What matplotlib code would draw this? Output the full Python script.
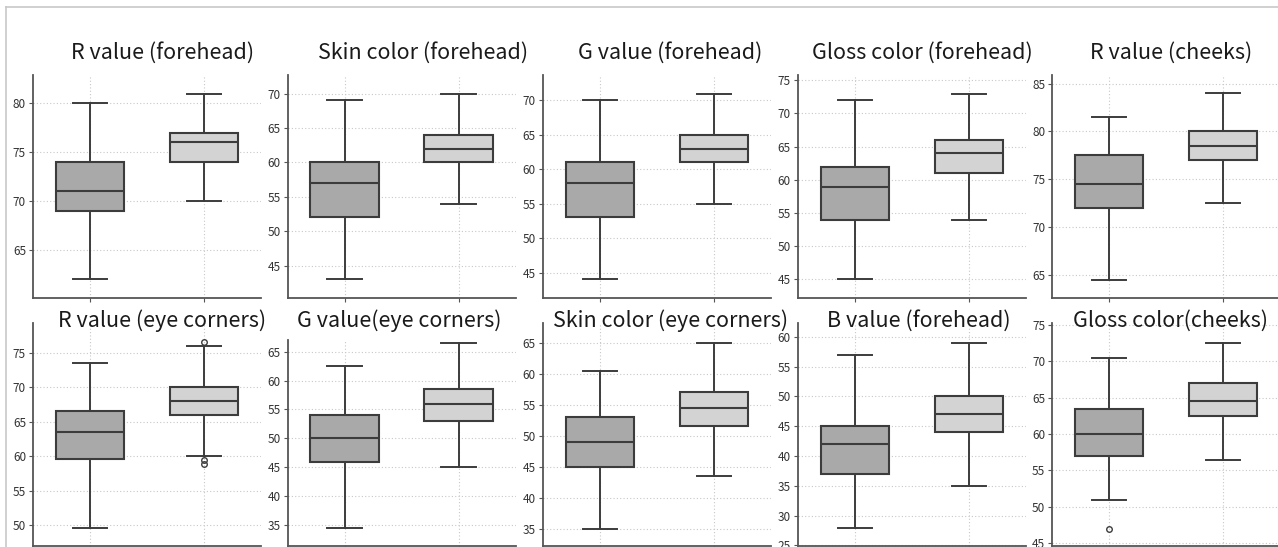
import matplotlib
matplotlib.use("Agg")
import matplotlib.pyplot as plt
from matplotlib.ticker import MultipleLocator
from matplotlib.lines import Line2D

plt.rcParams['font.family'] = ['Noto Sans CJK JP', 'DejaVu Sans']

# ---- data (per panel; group A = dark box, group B = light box) ----
titles = ["R value (forehead)", "Skin color (forehead)", "G value (forehead)",
          "Gloss color (forehead)", "R value (cheeks)",
          "R value (eye corners)", "G value(eye corners)", "Skin color (eye corners)",
          "B value (forehead)", "Gloss color(cheeks)"]

a_whislo = [62, 43, 44, 45, 64.5, 49.5, 34.5, 35, 28, 51]
a_q1     = [69, 52, 53, 54, 72, 59.5, 46, 45, 37, 57]
a_med    = [71, 57, 58, 59, 74.5, 63.5, 50, 49, 42, 60]
a_q3     = [74, 60, 61, 62, 77.5, 66.5, 54, 53, 45, 63.5]
a_whishi = [80, 69, 70, 72, 81.5, 73.5, 62.5, 60.5, 57, 70.5]
a_fliers = [[], [], [], [], [], [], [], [], [], [47]]

b_whislo = [70, 54, 55, 54, 72.5, 60, 45, 43.5, 35, 56.5]
b_q1     = [74, 60, 61, 61, 77, 66, 53, 51.5, 44, 62.5]
b_med    = [76, 62, 63, 64, 78.5, 68, 56, 54.5, 47, 64.5]
b_q3     = [77, 64, 65, 66, 80, 70, 58.5, 57, 50, 67]
b_whishi = [81, 70, 71, 73, 84, 76, 66.5, 65, 59, 72.5]
b_fliers = [[], [], [], [], [], [76.5, 59.4, 58.9], [], [], [], []]

ylims = [(60.1, 82.9), (40.3, 72.7), (41.3, 73.7), (42.2, 75.8), (62.6, 85.9),
         (46.95, 79.3), (31.4, 67.0), (32.2, 68.2), (24.9, 62.3), (44.6, 75.3)]

# ---- layout (pixels) ----
W, H = 1278, 547
lefts = [33, 287.5, 542.7, 797.7, 1052.3]
ax_w = 228
row_top = [[75, 75, 75, 75, 75], [323, 340, 323, 323, 323]]
row_bot = [298, 546]
title_x = [[163, 423, 670, 922, 1171], [162.5, 399, 670.7, 919, 1170.5]]
title_y = [53, 320.5]

fig = plt.figure(figsize=(W / 100, H / 100), dpi=100)

edge = '#3c3c3c'
for i in range(10):
    r, c = divmod(i, 5)
    top, bot = row_top[r][c], row_bot[r]
    ax = fig.add_axes([lefts[c] / W, 1 - bot / H, ax_w / W, (bot - top) / H])
    stats = [
        dict(whislo=a_whislo[i], q1=a_q1[i], med=a_med[i], q3=a_q3[i],
             whishi=a_whishi[i], fliers=a_fliers[i]),
        dict(whislo=b_whislo[i], q1=b_q1[i], med=b_med[i], q3=b_q3[i],
             whishi=b_whishi[i], fliers=b_fliers[i]),
    ]
    bp = ax.bxp(stats, positions=[1, 2], widths=0.6, patch_artist=True,
                boxprops=dict(edgecolor=edge, linewidth=1.5),
                whiskerprops=dict(color=edge, linewidth=1.4),
                capprops=dict(color=edge, linewidth=1.4),
                medianprops=dict(color=edge, linewidth=1.5),
                flierprops=dict(marker='o', markersize=4, markerfacecolor='none',
                                markeredgecolor=edge, markeredgewidth=1.0))
    for patch, fc in zip(bp['boxes'], ['#a9a9a9', '#d3d3d3']):
        patch.set_facecolor(fc)
    for fl in bp['fliers']:
        fl.set_clip_on(False)
    ax.set_xlim(0.5, 2.5)
    ax.set_ylim(*ylims[i])
    ax.yaxis.set_major_locator(MultipleLocator(5))
    ax.set_xticks([1, 2])
    ax.set_xticklabels([])
    ax.grid(True, linestyle=(0, (1, 2)), color='#c8c8c8', linewidth=0.8)
    ax.set_axisbelow(True)
    for s in ['top', 'right']:
        ax.spines[s].set_visible(False)
    for s in ['left', 'bottom']:
        ax.spines[s].set_color('#555555')
        ax.spines[s].set_linewidth(1.3)
    ax.tick_params(axis='y', labelsize=8.5, colors='#555555', labelcolor='#333333',
                   length=3, width=0.8, pad=2)
    ax.tick_params(axis='x', colors='#555555', length=3, width=0.8)
    ax.set_facecolor('none')
    fig.text(title_x[r][c] / W, 1 - title_y[r] / H, titles[i], ha='center',
             va='center', fontsize=15.5, color='#1a1a1a')

# outer frame lines
fig.add_artist(Line2D([6 / W, 1], [1 - 7 / H, 1 - 7 / H], color='#c8c8c8', lw=1.2))
fig.add_artist(Line2D([6 / W, 6 / W], [0, 1 - 7 / H], color='#c8c8c8', lw=1.2))

fig.savefig('out.png', dpi=100)
